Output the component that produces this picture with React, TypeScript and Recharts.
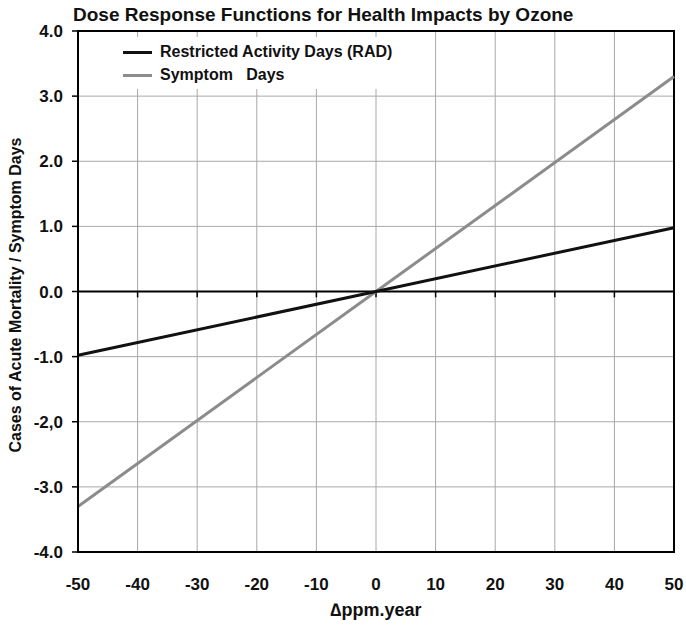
import React from "react";
import { LineChart, Line, XAxis, YAxis, CartesianGrid, ReferenceLine, ReferenceArea } from "recharts";

const xValues = [-50, 0, 50];
const radValues = [-0.98, 0, 0.98];
const symptomValues = [-3.3, 0, 3.3];
const xTicks = [-50, -40, -30, -20, -10, 0, 10, 20, 30, 40, 50];
const yTicks = [4, 3, 2, 1, 0, -1, -2, -3, -4];
const yTickLabels = ["4.0", "3.0", "2.0", "1.0", "0.0", "-1.0", "-2,0", "-3.0", "-4.0"];
const seriesNames = ["Restricted Activity Days (RAD)", "Symptom   Days"];
const seriesColors = ["#111111", "#8c8c8c"];
const title = "Dose Response Functions for Health Impacts by Ozone";
const xLabel = "\u2206ppm.year";
const yLabel = "Cases of Acute Mortality / Symptom Days";

const data = xValues.map((x, i) => ({ x, rad: radValues[i], sym: symptomValues[i] }));

const FONT = "'Liberation Sans', Arial, sans-serif";
const tickStyle = { fill: "#111", fontSize: 17, fontWeight: 700, fontFamily: FONT };

export default function App() {
  return (
    <div style={{ position: "absolute", left: 0, top: 0, width: 686, height: 626, background: "#fff", fontFamily: FONT }}>
      <LineChart width={686} height={626} data={data} margin={{ top: 31, right: 12, left: 0, bottom: 0 }}>
        <CartesianGrid stroke="#a8a8a8" strokeWidth={1} />
        <XAxis
          dataKey="x"
          type="number"
          domain={[-50, 50]}
          ticks={xTicks}
          height={74}
          tickLine={false}
          axisLine={{ stroke: "#000", strokeWidth: 2 }}
          tickMargin={20}
          tick={tickStyle}
          label={{ value: xLabel, position: "insideBottom", offset: 10, fill: "#111", fontSize: 18, fontWeight: 700, fontFamily: FONT }}
        />
        <YAxis
          type="number"
          domain={[-4, 4]}
          ticks={yTicks}
          width={78}
          interval={0}
          tickSize={6}
          tickMargin={9}
          tickLine={{ stroke: "#000", strokeWidth: 1.5 }}
          axisLine={{ stroke: "#000", strokeWidth: 2 }}
          tickFormatter={(v: number) => yTickLabels[yTicks.indexOf(v)] ?? String(v)}
          tick={tickStyle}
        />
        <ReferenceArea x1={-50} x2={50} y1={-4} y2={4} fill="none" stroke="#000" strokeWidth={2} ifOverflow="visible" />
        <ReferenceLine y={0} stroke="#000" strokeWidth={2} />
        {xTicks.map((t) => (
          <ReferenceLine key={t} segment={[{ x: t, y: 0 }, { x: t, y: -0.09 }]} stroke="#000" strokeWidth={1.5} />
        ))}
        <Line type="linear" dataKey="sym" name={seriesNames[1]} stroke={seriesColors[1]} strokeWidth={3} dot={false} isAnimationActive={false} />
        <Line type="linear" dataKey="rad" name={seriesNames[0]} stroke={seriesColors[0]} strokeWidth={3} dot={false} isAnimationActive={false} />
      </LineChart>
      <div style={{ position: "absolute", left: 73, top: 4, fontWeight: 700, fontSize: 19, lineHeight: "22px", color: "#111", whiteSpace: "nowrap" }}>{title}</div>
      <div
        style={{
          position: "absolute",
          left: 16,
          top: 295,
          transform: "translate(-50%, -50%) rotate(-90deg)",
          fontWeight: 700,
          fontSize: 16,
          color: "#111",
          whiteSpace: "nowrap",
        }}
      >
        {yLabel}
      </div>
      <div style={{ position: "absolute", left: 106, top: 37, width: 312, height: 52, background: "#fff", fontWeight: 700, fontSize: 16, color: "#111" }}>
        {seriesNames.map((n, i) => (
          <div key={i} style={{ position: "absolute", left: 17, top: 4 + i * 23, height: 22, display: "flex", alignItems: "center" }}>
            <div style={{ width: 29, height: 3, background: seriesColors[i], marginRight: 8 }} />
            <span style={{ whiteSpace: "pre" }}>{n}</span>
          </div>
        ))}
      </div>
    </div>
  );
}
